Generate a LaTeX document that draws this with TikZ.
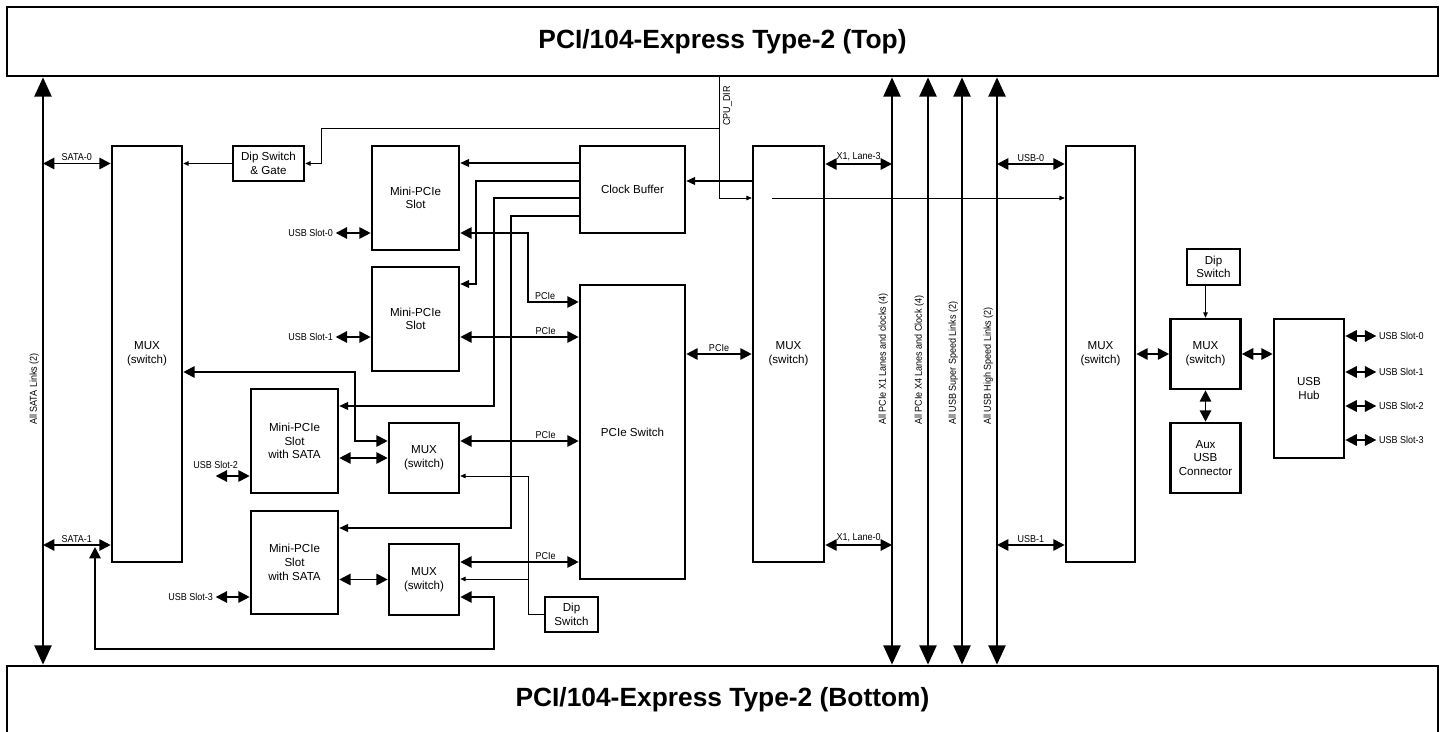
\documentclass[tikz,border=0pt]{standalone}
\usepackage{fontspec}
\setmainfont{Liberation Sans}
\newfontfamily\lblfont[FakeStretch=0.9]{Liberation Sans}
\usetikzlibrary{arrows.meta}

\tikzset{
  blk/.style={draw, line width=1.5pt, align=center, inner sep=1pt},
  lbl/.style={font=\lblfont\fontsize{5.7}{6.5}\selectfont, inner sep=1pt},
  bus/.style={line width=1.6pt, {Triangle[length=11pt,width=9.6pt]}-{Triangle[length=11pt,width=9.6pt]}},
  link/.style={line width=1.1pt, {Triangle[length=6.5pt,width=6.5pt]}-{Triangle[length=6.5pt,width=6.5pt]}},
  sig/.style={line width=0.6pt, -{Triangle[length=5pt,width=4.5pt]}},
  ctl/.style={line width=0.4pt, -{Triangle[length=3pt,width=2.6pt]}},
}

\begin{document}
\begin{tikzpicture}[x=0.02cm, y=-0.02cm, every node/.style={font=\fontsize{6.6}{7.8}\selectfont}]
  \useasboundingbox (0,0) rectangle (1446,732);
  \clip (0,0) rectangle (1446,732);

  % stack connectors
  \node[blk, minimum width=28.62cm, minimum height=1.38cm, font=\bfseries\fontsize{15}{17}\selectfont] (top) at (722.5,41.5) {PCI/104-Express Type-2 (Top)};
  \node[blk, minimum width=28.62cm, minimum height=1.36cm, font=\bfseries\fontsize{15}{17}\selectfont] (bottom) at (722.5,700) {PCI/104-Express Type-2 (Bottom)};

  % blocks
  \node[blk, minimum width=1.40cm, minimum height=8.32cm] (muxa) at (147,354) {MUX\\(switch)};
  \node[blk, minimum width=1.42cm, minimum height=0.70cm] (dipgate) at (268.5,163.5) {Dip Switch\\\& Gate};
  \node[blk, minimum width=1.74cm, minimum height=2.08cm] (mpa) at (415.5,198) {Mini-PCIe\\Slot};
  \node[blk, minimum width=1.74cm, minimum height=2.08cm] (mpb) at (415.5,319) {Mini-PCIe\\Slot};
  \node[blk, minimum width=2.10cm, minimum height=1.74cm] (clk) at (632.5,189.5) {Clock Buffer};
  \node[blk, minimum width=2.10cm, minimum height=5.88cm] (pcisw) at (632.5,432) {PCIe Switch};
  \node[blk, minimum width=1.74cm, minimum height=2.08cm] (mpc) at (294.5,441) {Mini-PCIe\\Slot\\with SATA};
  \node[blk, minimum width=1.74cm, minimum height=2.06cm] (mpd) at (294.5,562.5) {Mini-PCIe\\Slot\\with SATA};
  \node[blk, minimum width=1.40cm, minimum height=1.40cm] (muxb) at (424,458) {MUX\\(switch)};
  \node[blk, minimum width=1.40cm, minimum height=1.42cm] (muxc) at (424,579.5) {MUX\\(switch)};
  \node[blk, minimum width=1.06cm, minimum height=0.70cm] (dipb) at (571.5,614.5) {Dip\\Switch};
  \node[blk, minimum width=1.42cm, minimum height=8.32cm] (muxm) at (788.5,354) {MUX\\(switch)};
  \node[blk, minimum width=1.38cm, minimum height=8.32cm] (muxu) at (1100.5,354) {MUX\\(switch)};
  \node[blk, minimum width=1.40cm, minimum height=1.40cm] (muxs) at (1205.5,354) {MUX\\(switch)};
  \node[blk, minimum width=1.06cm, minimum height=0.72cm] (dipc) at (1213.5,267) {Dip\\Switch};
  \node[blk, minimum width=1.40cm, minimum height=1.40cm] (aux) at (1205.5,458) {Aux\\USB\\Connector};
  \node[blk, minimum width=1.40cm, minimum height=2.78cm] (hub) at (1309,388.5) {USB\\Hub};

  % buses between top and bottom
  \coordinate (sataBus) at (43,0);
  \coordinate (x1Bus) at (892,0);
  \coordinate (x4Bus) at (928,0);
  \coordinate (ssBus) at (962,0);
  \coordinate (hsBus) at (997,0);
  \foreach \b in {sataBus,x1Bus,x4Bus,ssBus,hsBus}
    \draw[bus] (\b |- top.south) -- (\b |- bottom.north);
  \node[lbl, rotate=90, anchor=south west] (sataTxt) at (41,427) {All SATA Links (2)};
  \node[lbl, rotate=90, anchor=south west] (x1Txt) at (890,427) {All PCIe X1 Lanes and clocks (4)};
  \node[lbl, rotate=90, anchor=south west] (x4Txt) at (926,427) {All PCIe X4 Lanes and Clock (4)};
  \node[lbl, rotate=90, anchor=south west] (ssTxt) at (960,427) {All USB Super Speed Links (2)};
  \node[lbl, rotate=90, anchor=south west] (hsTxt) at (995,427) {All USB High Speed Links (2)};

  % SATA links
  \draw[link] (sataBus |- dipgate) -- node[lbl, above] (sata0) {SATA-0} (muxa.west |- dipgate);
  \draw[link] (sataBus |- 0,545) -- node[lbl, above] (sata1) {SATA-1} (muxa.west |- 0,545);
  \draw[ctl] (dipgate.west) -- (muxa.east |- dipgate.west);

  % CPU_DIR
  \coordinate (cpuDir) at (719,0);
  \draw[ctl] (cpuDir |- top.south) -- (cpuDir |- 0,198) -- (muxm.west |- 0,198);
  \draw[ctl] (cpuDir |- 0,128) -- (321,128) |- (dipgate.east);
  \node[lbl, rotate=90, anchor=north west] (cpuTxt) at (721,128) {CPU\_DIR};
  \draw[ctl] (772,198) -- (muxu.west |- 0,198);

  % clocks
  \draw[sig] (muxm.west |- 0,181) -- (clk.east |- 0,181);
  \draw[sig] (clk.west |- 0,163) -- (mpa.east |- 0,163);
  \draw[sig] (clk.west |- 0,181) -- (476,181) |- (mpb.east |- 0,284);
  \draw[sig] (clk.west |- 0,198) -- (494,198) |- (mpc.east |- 0,406);
  \draw[sig] (clk.west |- 0,216) -- (511,216) |- (mpd.east |- 0,528);

  % USB slots of the mini-PCIe slots
  \draw[link] (mpa.west |- 0,233) -- ++(-35,0) node[lbl, left] (usba) {USB Slot-0};
  \draw[link] (mpb.west |- 0,337) -- ++(-35,0) node[lbl, left] (usbb) {USB Slot-1};
  \draw[link] (mpc.west |- 0,476) -- ++(-34,0) node[lbl, above, yshift=2.5pt] (usbc) {USB Slot-2};
  \draw[link] (mpd.west |- 0,597) -- ++(-34,0) node[lbl, left] (usbd) {USB Slot-3};

  % PCIe lanes
  \draw[link] (mpa.east |- 0,233) -- (528,233) |- node[lbl, above, pos=0.67] (pcieA) {PCIe} (pcisw.west |- 0,302);
  \draw[link] (mpb.east |- 0,337) -- node[lbl, above, pos=0.72] (pcieB) {PCIe} (pcisw.west |- 0,337);
  \draw[link] (muxb.east |- 0,441) -- node[lbl, above, pos=0.72] (pcieC) {PCIe} (pcisw.west |- 0,441);
  \draw[link] (muxc.east |- 0,562) -- node[lbl, above, pos=0.72] (pcieD) {PCIe} (pcisw.west |- 0,562);
  \draw[link] (pcisw.east |- 0,354) -- node[lbl, above] (pcieE) {PCIe} (muxm.west |- 0,354);

  % SATA muxes
  \draw[link] (muxa.east |- 0,372) -- (355,372) |- (muxb.west |- 0,441);
  \draw[link] (mpc.east |- muxb) -- (muxb.west);
  \draw[link] (mpd.east |- muxc) -- (muxc.west);
  \coordinate (sataJoin) at (95,547);
  \draw[link] (sataJoin) -- (95,649) -- (494,649) |- (muxc.east |- 0,597);
  \draw[ctl] (dipb.west) -- (528,614.5) |- (muxb.east |- 0,476);
  \draw[ctl] (528,579) -- (muxc.east |- 0,579);

  % lanes to the stack
  \draw[link] (muxm.east |- 0,164) -- node[lbl, above] (lane3) {X1, Lane-3} (x1Bus |- 0,164);
  \draw[link] (muxm.east |- 0,545) -- node[lbl, above] (lane0) {X1, Lane-0} (x1Bus |- 0,545);
  \draw[link] (hsBus |- 0,164) -- node[lbl, above] (usb0) {USB-0} (muxu.west |- 0,164);
  \draw[link] (hsBus |- 0,545) -- node[lbl, above] (usb1) {USB-1} (muxu.west |- 0,545);

  % USB hub side
  \draw[link] (muxu.east |- muxs) -- (muxs.west);
  \draw[link] (muxs.east) -- (hub.west |- muxs);
  \draw[link] (muxs.south) -- (aux.north);
  \draw[ctl] (dipc.south -| muxs.north) -- (muxs.north);
  \foreach \y/\k in {336/0,372/1,406/2,440/3}
    \draw[link] (hub.east |- 0,\y) -- ++(31,0) node[lbl, right] (hubOut\k) {USB Slot-\k};
\end{tikzpicture}
\end{document}
